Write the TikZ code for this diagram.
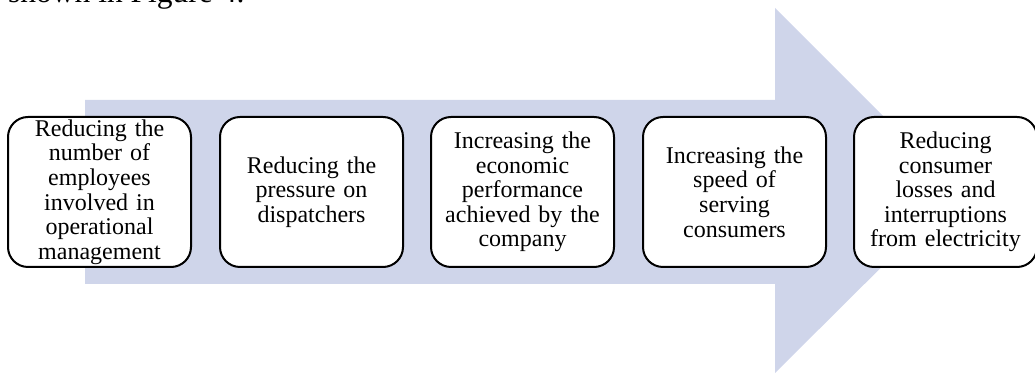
\documentclass[tikz,border=0pt]{standalone}
\usepackage{fontspec}
\setmainfont{Liberation Serif}
\definecolor{arrowfill}{RGB}{207,213,234}
\tikzset{
  stepbox/.style={draw=black, line width=2pt, rounded corners=20pt, fill=white,
    minimum width=183pt, minimum height=150pt, inner sep=0pt,
    text width=181pt, align=center,
    font=\fontsize{24}{24.6}\selectfont},
}
\begin{document}
\begin{tikzpicture}[x=1pt,y=1pt]
\useasboundingbox (0,0) rectangle (1035,374);
\clip (0,0) rectangle (1035,374);
\node[anchor=base west, inner sep=0pt, font=\fontsize{31.5}{36}\selectfont] (top) at (8,371.5) {shown in Figure 4.};
\fill[arrowfill] (85,274) -- (775,274) -- (775,366) -- (958,183) -- (775,1) -- (775,90) -- (85,90) -- cycle;
\node[stepbox] (b1) at (99.5,182) {Reducing the\\number of\\employees\\involved in\\operational\\management};
\node[stepbox] (b2) at (311.5,182) {Reducing the\\pressure on\\dispatchers};
\node[stepbox] (b3) at (522.5,182) {Increasing the\\economic\\performance\\achieved by the\\company};
\node[stepbox] (b4) at (734.5,182) {Increasing the\\speed of\\serving\\consumers};
\node[stepbox] (b5) at (945.5,182) {Reducing\\consumer\\losses and\\interruptions\\from electricity};
\end{tikzpicture}
\end{document}
